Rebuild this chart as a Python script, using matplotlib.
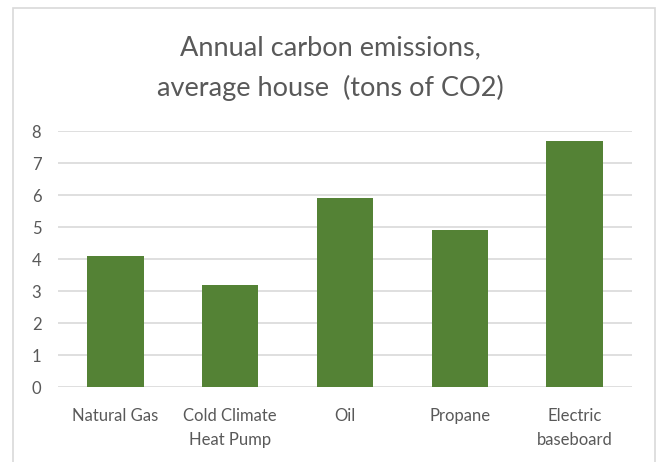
import matplotlib
matplotlib.use("Agg")
import matplotlib.pyplot as plt
from matplotlib.patches import Rectangle

# data
categories = ["Natural Gas", "Cold Climate\nHeat Pump", "Oil", "Propane", "Electric\nbaseboard"]
emissions = [4.1, 3.2, 5.9, 4.9, 7.7]
yticks = [0, 1, 2, 3, 4, 5, 6, 7, 8]

BAR = "#548235"
GRID = "#d9d9d9"
TEXT = "#595959"

plt.rcParams['font.family'] = ['Lato', 'DejaVu Sans']

fig = plt.figure(figsize=(6.61, 4.62), dpi=100)
ax = fig.add_axes([58 / 661, 1 - 387 / 462, (632 - 58) / 661, (387 - 131) / 462])

x = range(len(categories))
ax.bar(x, emissions, width=0.49, color=BAR, zorder=3)
ax.set_xlim(-0.5, len(categories) - 0.5)
ax.set_ylim(0, 8)
ax.set_yticks(yticks)
ax.set_xticks(list(x))
ax.set_xticklabels(categories, fontsize=12, color=TEXT, linespacing=1.6)
ax.tick_params(axis='y', labelsize=12, labelcolor=TEXT, length=0, pad=12)
ax.tick_params(axis='x', length=0, pad=15)
ax.grid(axis='y', color=GRID, linewidth=1.2, zorder=0)
for s in ax.spines.values():
    s.set_visible(False)

fig.text(0.5, 1 - 48 / 462, "Annual carbon emissions,", ha='center', va='center',
         fontsize=19.5, color=TEXT)
fig.text(0.5, 1 - 88 / 462, "average house  (tons of CO2)", ha='center', va='center',
         fontsize=19.5, color=TEXT)

# light chart frame
fig.patches.append(Rectangle((13 / 661, -0.05), (655 - 13) / 661, 1.05 - 8 / 462,
                             transform=fig.transFigure, fill=False,
                             edgecolor=GRID, linewidth=1.2))

fig.savefig("out.png", dpi=100)
